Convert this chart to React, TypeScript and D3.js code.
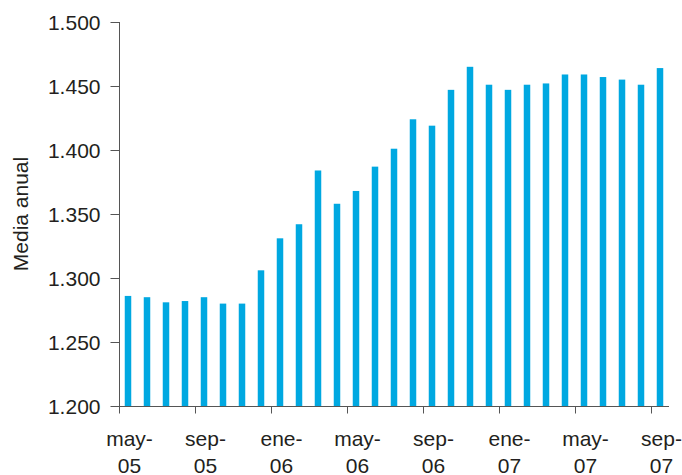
import * as d3 from "d3";
import React, { useEffect, useRef } from "react";

const months = [
  "may-05", "jun-05", "jul-05", "ago-05", "sep-05", "oct-05", "nov-05", "dic-05",
  "ene-06", "feb-06", "mar-06", "abr-06", "may-06", "jun-06", "jul-06", "ago-06",
  "sep-06", "oct-06", "nov-06", "dic-06", "ene-07", "feb-07", "mar-07", "abr-07",
  "may-07", "jun-07", "jul-07", "ago-07", "sep-07",
];

const values = [
  1.286, 1.285, 1.281, 1.282, 1.285, 1.28, 1.28, 1.306,
  1.331, 1.342, 1.384, 1.358, 1.368, 1.387, 1.401, 1.424,
  1.419, 1.447, 1.465, 1.451, 1.447, 1.451, 1.452, 1.459,
  1.459, 1.457, 1.455, 1.451, 1.464,
];

const tickMonths = ["may-05", "sep-05", "ene-06", "may-06", "sep-06", "ene-07", "may-07", "sep-07"];
const yTicks = [1.2, 1.25, 1.3, 1.35, 1.4, 1.45, 1.5];

export default function App() {
  const ref = useRef(null);
  const width = 682;
  const height = 475;

  useEffect(() => {
    const svg = d3.select(ref.current);
    svg.selectAll("*").remove();

    const font = "'Liberation Sans', Arial, Helvetica, sans-serif";
    const axisColor = "#555";
    const textColor = "#231f20";

    const x = d3.scaleBand().domain(months).range([118.5, 669.5]).padding(0);
    const y = d3.scaleLinear().domain([1.2, 1.5]).range([406, 22]);
    const fmt = d3.format(".3f");

    const barW = 6.5;

    svg
      .append("g")
      .selectAll("rect")
      .data(values)
      .join("rect")
      .attr("x", (d, i) => x(months[i]) + x.bandwidth() / 2 - barW / 2)
      .attr("y", (d) => y(d))
      .attr("width", barW)
      .attr("height", (d) => y(1.2) - y(d))
      .attr("fill", "#00a8e1");

    // y axis
    const yAxis = svg.append("g").attr("transform", "translate(119.5,0)");
    yAxis
      .append("line")
      .attr("y1", y(1.5))
      .attr("y2", y(1.2))
      .attr("stroke", axisColor);
    yAxis
      .selectAll("line.tick")
      .data(yTicks)
      .join("line")
      .attr("class", "tick")
      .attr("x1", -9)
      .attr("x2", 0)
      .attr("y1", (d) => Math.round(y(d)) + 0.5)
      .attr("y2", (d) => Math.round(y(d)) + 0.5)
      .attr("stroke", axisColor);
    yAxis
      .selectAll("text")
      .data(yTicks)
      .join("text")
      .attr("x", -19)
      .attr("y", (d) => y(d))
      .attr("dy", "0.36em")
      .attr("text-anchor", "end")
      .style("font-family", font)
      .style("font-size", "21px")
      .attr("fill", textColor)
      .text(fmt);

    // x axis
    const xAxis = svg.append("g").attr("transform", "translate(0,406.5)");
    xAxis
      .append("line")
      .attr("x1", 119)
      .attr("x2", 669)
      .attr("stroke", axisColor);
    xAxis
      .selectAll("line.tick")
      .data(tickMonths)
      .join("line")
      .attr("class", "tick")
      .attr("x1", (d) => Math.round(x(d)) + 0.5)
      .attr("x2", (d) => Math.round(x(d)) + 0.5)
      .attr("y1", 0)
      .attr("y2", 7)
      .attr("stroke", axisColor);
    const labels = xAxis
      .selectAll("text")
      .data(tickMonths)
      .join("text")
      .attr("text-anchor", "middle")
      .style("font-family", font)
      .style("font-size", "21px")
      .attr("fill", textColor)
      .attr("transform", (d) => `translate(${x(d) + x.bandwidth() / 2 + 1.5},0)`);
    labels
      .append("tspan")
      .attr("x", 0)
      .attr("y", 39)
      .text((d) => d.split("-")[0] + "-");
    labels
      .append("tspan")
      .attr("x", 0)
      .attr("y", 66)
      .text((d) => d.split("-")[1]);

    svg
      .append("text")
      .attr("transform", `translate(28,214) rotate(-90)`)
      .attr("text-anchor", "middle")
      .style("font-family", font)
      .style("font-size", "21px")
      .attr("fill", textColor)
      .text("Media anual");
  }, []);

  return (
    <svg
      ref={ref}
      width={width}
      height={height}
      style={{ position: "absolute", left: 0, top: 0, background: "#fff" }}
    />
  );
}
